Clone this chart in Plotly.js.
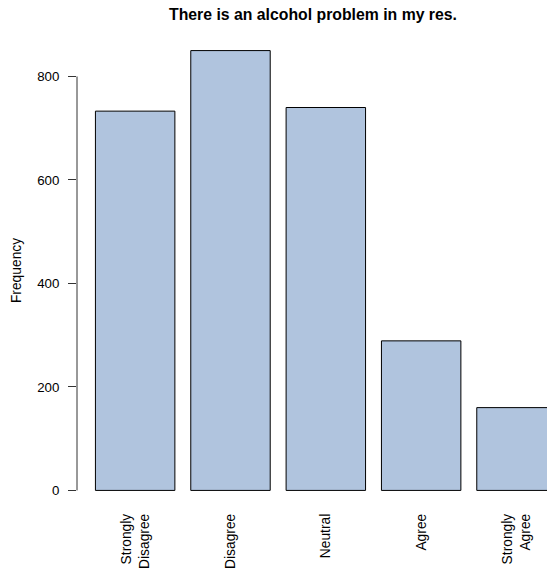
<!DOCTYPE html>
<html>
<head>
<meta charset="utf-8">
<script src="https://cdn.plot.ly/plotly-3.0.1.min.js"></script>
<style>
  html, body { margin: 0; padding: 0; background: #fff; }
  #chart { width: 547px; height: 571px; }
</style>
</head>
<body>
<div id="chart"></div>
<script>
// Data
const categories = ["Strongly Disagree", "Disagree", "Neutral", "Agree", "Strongly Agree"];
const tickLabels = ["Strongly<br>Disagree", "Disagree", "Neutral", "Agree", "Strongly<br>Agree"];
const frequencies = [733, 850, 740, 289, 160];
const yTicks = [0, 200, 400, 600, 800];

// R barplot layout: width 1, space 0.2
const barX = categories.map((_, i) => 0.7 + 1.2 * i);

const font = "Liberation Sans, Arial, Helvetica, sans-serif";

const trace = {
  type: "bar",
  x: barX,
  y: frequencies,
  width: 1,
  marker: { color: "#B0C4DE", line: { color: "#000000", width: 1 } },
  hoverinfo: "skip"
};

const layout = {
  width: 547,
  height: 571,
  margin: { l: 77, r: 0, t: 33, b: 63, pad: 0 },
  paper_bgcolor: "#ffffff",
  plot_bgcolor: "#ffffff",
  showlegend: false,
  font: { family: font, size: 13.5, color: "#000000" },
  title: {
    text: "<b>There is an alcohol problem in my res.</b>",
    font: { family: font, size: 15.8, color: "#000000" },
    xref: "container", x: 313 / 547, xanchor: "center",
    yref: "container", y: 1 - 14.5 / 571, yanchor: "middle"
  },
  xaxis: {
    range: [-0.032, 5.884],
    tickmode: "array",
    tickvals: barX,
    ticktext: tickLabels,
    tickangle: -90,
    ticks: "",
    ticklabelstandoff: 2,
    showline: false,
    showgrid: false,
    zeroline: false,
    automargin: false,
    tickfont: { family: font, size: 13.8, color: "#000000" }
  },
  yaxis: {
    range: [-34, 884],
    tickmode: "array",
    tickvals: yTicks,
    ticks: "outside",
    ticklen: 8,
    tickwidth: 1,
    tickcolor: "#333333",
    ticklabelstandoff: 6,
    showline: false,
    showgrid: false,
    zeroline: false,
    automargin: false,
    tickfont: { family: font, size: 13.3, color: "#000000" },
    title: { text: "Frequency", standoff: 12, font: { family: font, size: 13.8, color: "#000000" } }
  },
  shapes: [{
    type: "line", xref: "paper", yref: "y",
    x0: 0, x1: 0, y0: yTicks[0], y1: yTicks[yTicks.length - 1],
    line: { color: "#333333", width: 1 }
  }]
};

Plotly.newPlot("chart", [trace], layout, { staticPlot: true, displayModeBar: false });
</script>
</body>
</html>
